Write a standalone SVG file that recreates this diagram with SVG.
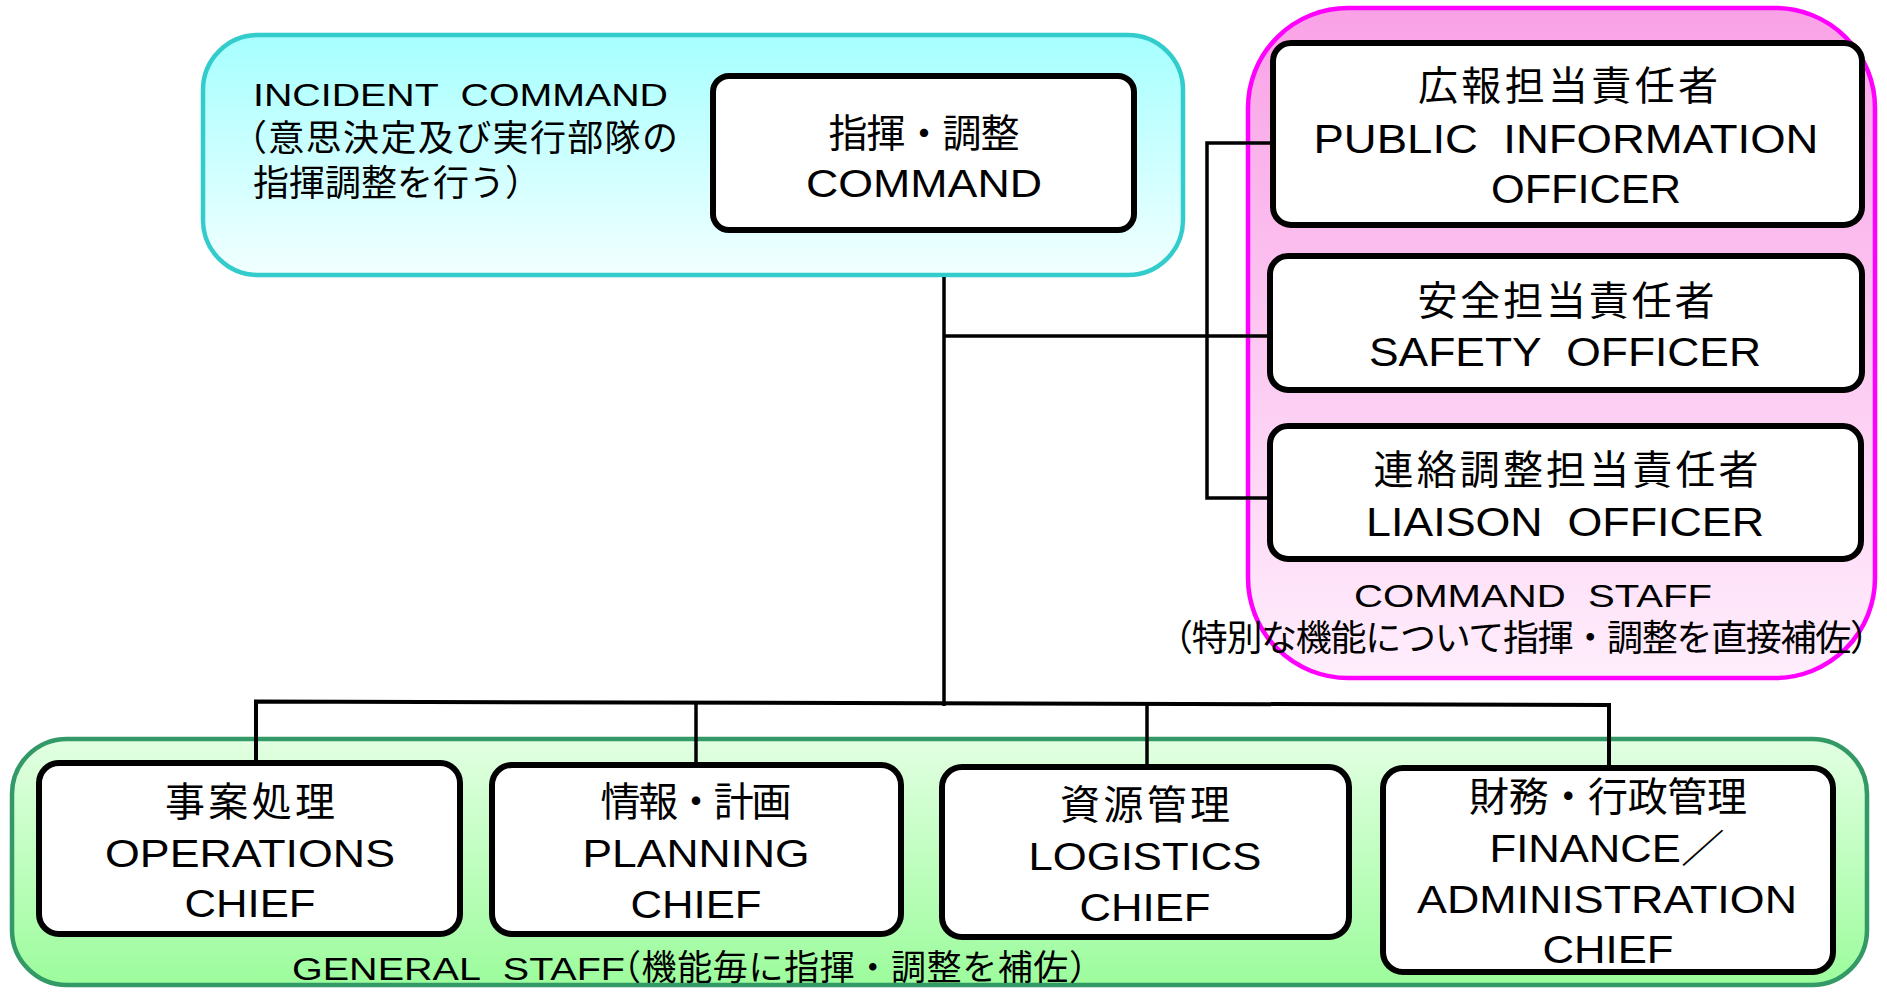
<svg xmlns="http://www.w3.org/2000/svg" width="1887" height="993" viewBox="0 0 1887 993">
<defs>
<linearGradient id="gCyan" x1="0" y1="0" x2="0" y2="1"><stop offset="0" stop-color="#a6ffff"/><stop offset="1" stop-color="#f2ffff"/></linearGradient>
<linearGradient id="gPink" x1="0" y1="0" x2="0" y2="1"><stop offset="0" stop-color="#f9a2e6"/><stop offset="1" stop-color="#ffeefc"/></linearGradient>
<linearGradient id="gGreen" x1="0" y1="0" x2="0" y2="1"><stop offset="0" stop-color="#e2ffe2"/><stop offset="1" stop-color="#9cfc9c"/></linearGradient>
</defs>
<style>
.box{fill:#fff;stroke:#000;stroke-width:6}
.en{font-family:"Liberation Sans","Noto Sans CJK JP",sans-serif;font-size:39px;fill:#000}
.ja{font-family:"Noto Sans CJK JP",sans-serif;font-size:40px;fill:#000}
.c{text-anchor:middle}
.ln{stroke:#000;stroke-width:3.5;fill:none}
</style>
<rect width="1887" height="993" fill="#fff"/>

<g id="incident-command-area">
<rect x="203" y="35" width="980" height="240" rx="55" fill="url(#gCyan)" stroke="#33cccc" stroke-width="4.5"/>
<text class="en" x="253" y="106" style="font-size:32px" textLength="415" lengthAdjust="spacingAndGlyphs">INCIDENT&#160;&#160;COMMAND</text>
<text class="ja" x="231" y="151" style="font-size:36px" textLength="447" lengthAdjust="spacing">（意思決定及び実行部隊の</text>
<text class="ja" x="253" y="196" style="font-size:36px">指揮調整を行う）</text>
</g>

<g id="command-staff-area">
<rect x="1248" y="8" width="627" height="670" rx="100" fill="url(#gPink)" stroke="#ff00ff" stroke-width="4.5"/>
<text class="en c" x="1533" y="607" style="font-size:32px" textLength="358" lengthAdjust="spacingAndGlyphs">COMMAND&#160;&#160;STAFF</text>
<text class="ja" x="1157" y="651" style="font-size:36px" textLength="729" lengthAdjust="spacing">（特別な機能について指揮・調整を直接補佐）</text>
</g>

<g id="general-staff-area">
<rect x="12" y="739" width="1855" height="246" rx="55" fill="url(#gGreen)" stroke="#339966" stroke-width="4.5"/>
<text class="en" x="292" y="980" style="font-size:32px" textLength="333" lengthAdjust="spacingAndGlyphs">GENERAL&#160;&#160;STAFF</text>
<text class="ja" x="606" y="980" style="font-size:35px" textLength="498" lengthAdjust="spacing">（機能毎に指揮・調整を補佐）</text>
</g>

<g id="connectors" class="ln">
<line x1="944" y1="277" x2="944" y2="706"/>
<line x1="944" y1="336" x2="1270" y2="336"/>
<polyline points="1273,143 1207,143 1207,498 1270,498"/>
<polyline points="256,763 256,701.5 1609,705 1609,768" style="stroke-width:4"/>
<line x1="696" y1="702.5" x2="696" y2="765"/>
<line x1="1147" y1="704" x2="1147" y2="767"/>
</g>

<g id="command">
<rect class="box" x="713" y="76" width="421" height="154" rx="16"/>
<text class="ja c" x="924" y="147" style="font-size:39px" textLength="191" lengthAdjust="spacing">指揮・調整</text>
<text class="en c" x="924" y="197" style="font-size:38px" textLength="236" lengthAdjust="spacingAndGlyphs">COMMAND</text>
</g>

<g id="public-information-officer">
<rect class="box" x="1273" y="43" width="589" height="182" rx="18"/>
<text class="ja c" x="1568" y="100" textLength="300" lengthAdjust="spacing">広報担当責任者</text>
<text class="en c" x="1566" y="153" style="font-size:40px" textLength="505" lengthAdjust="spacingAndGlyphs">PUBLIC&#160;&#160;INFORMATION</text>
<text class="en c" x="1586" y="203" style="font-size:40px" textLength="190" lengthAdjust="spacingAndGlyphs">OFFICER</text>
</g>

<g id="safety-officer">
<rect class="box" x="1270" y="256" width="592" height="134" rx="18"/>
<text class="ja c" x="1566" y="315" textLength="297" lengthAdjust="spacing">安全担当責任者</text>
<text class="en c" x="1565" y="366" style="font-size:40px" textLength="392" lengthAdjust="spacingAndGlyphs">SAFETY&#160;&#160;OFFICER</text>
</g>

<g id="liaison-officer">
<rect class="box" x="1270" y="426" width="591" height="133" rx="18"/>
<text class="ja c" x="1566" y="484" textLength="385" lengthAdjust="spacing">連絡調整担当責任者</text>
<text class="en c" x="1565" y="536" style="font-size:40px" textLength="398" lengthAdjust="spacingAndGlyphs">LIAISON&#160;&#160;OFFICER</text>
</g>

<g id="operations-chief">
<rect class="box" x="39" y="763" width="421" height="171" rx="20"/>
<text class="ja c" x="250" y="816" textLength="170" lengthAdjust="spacing">事案処理</text>
<text class="en c" x="250" y="867" textLength="290" lengthAdjust="spacingAndGlyphs">OPERATIONS</text>
<text class="en c" x="250" y="917" textLength="131" lengthAdjust="spacingAndGlyphs">CHIEF</text>
</g>

<g id="planning-chief">
<rect class="box" x="492" y="765" width="409" height="169" rx="20"/>
<text class="ja c" x="696" y="816" textLength="191" lengthAdjust="spacing">情報・計画</text>
<text class="en c" x="696" y="867" textLength="227" lengthAdjust="spacingAndGlyphs">PLANNING</text>
<text class="en c" x="696" y="918" textLength="131" lengthAdjust="spacingAndGlyphs">CHIEF</text>
</g>

<g id="logistics-chief">
<rect class="box" x="942" y="767" width="407" height="170" rx="20"/>
<text class="ja c" x="1145" y="819" textLength="170" lengthAdjust="spacing">資源管理</text>
<text class="en c" x="1145" y="870" textLength="233" lengthAdjust="spacingAndGlyphs">LOGISTICS</text>
<text class="en c" x="1145" y="921" textLength="131" lengthAdjust="spacingAndGlyphs">CHIEF</text>
</g>

<g id="finance-administration-chief">
<rect class="box" x="1383" y="768" width="450" height="204" rx="20"/>
<text class="ja c" x="1608" y="811" textLength="278" lengthAdjust="spacing">財務・行政管理</text>
<text class="en c" x="1607" y="862" textLength="235" lengthAdjust="spacingAndGlyphs">FINANCE／</text>
<text class="en c" x="1607" y="913" textLength="380" lengthAdjust="spacingAndGlyphs">ADMINISTRATION</text>
<text class="en c" x="1608" y="963" textLength="131" lengthAdjust="spacingAndGlyphs">CHIEF</text>
</g>
</svg>
